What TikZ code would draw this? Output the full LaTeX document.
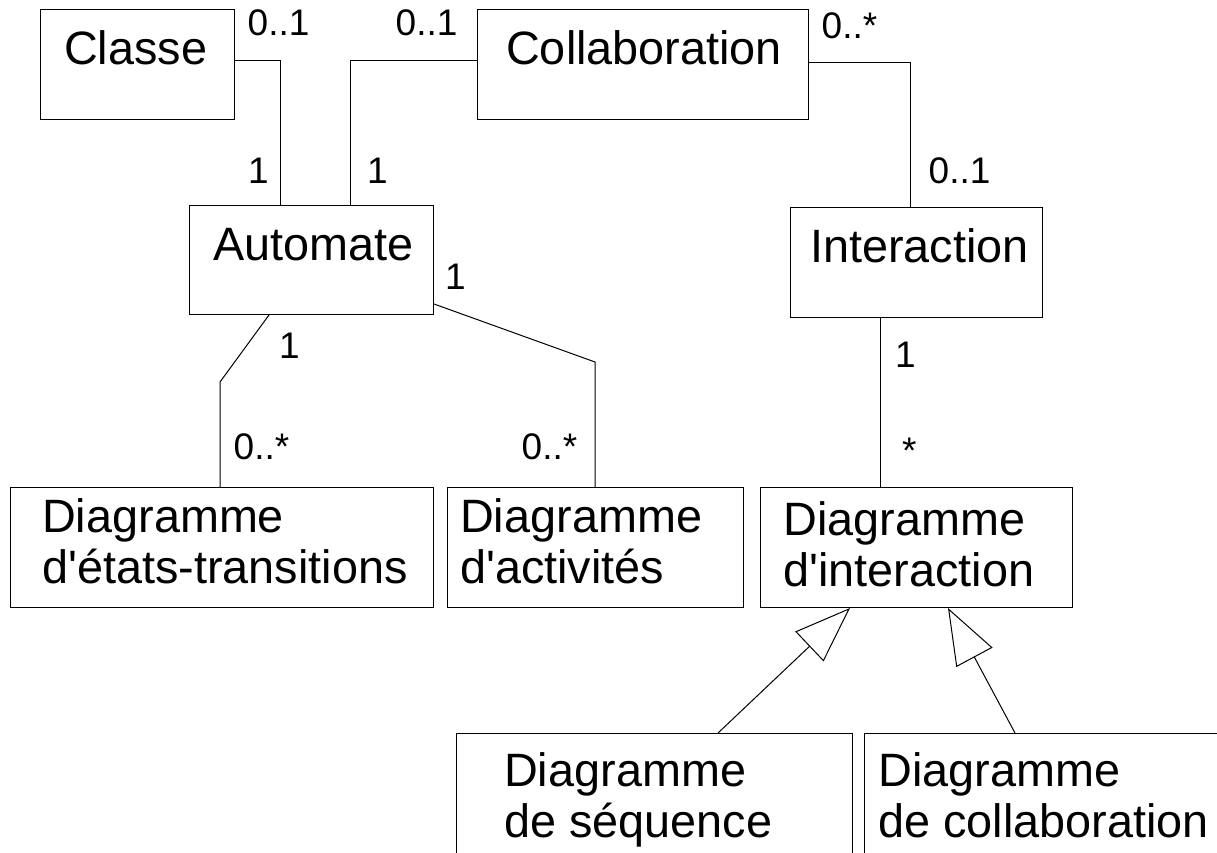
\documentclass[tikz,border=0pt]{standalone}
\usepackage{fontspec}
\newfontfamily\umlfont{Liberation Sans}
\usetikzlibrary{arrows.meta}

\tikzstyle{classbox}=[draw,line width=1pt,rectangle,anchor=north west,inner sep=0pt]
\tikzstyle{boxtext}=[font=\umlfont\fontsize{46.8}{51}\selectfont,inner sep=0pt,anchor=base west,align=left]
\tikzstyle{mult}=[font=\umlfont\fontsize{37}{40}\selectfont,inner sep=0pt,anchor=base west]
\tikzstyle{assoc}=[draw,line width=1pt]
\tikzstyle{generalization}=[draw,line width=1pt,-{Triangle[open,length=56pt,width=41pt]}]

\begin{document}
\begin{tikzpicture}[x=1pt,y=-1pt]
\useasboundingbox (0,0) rectangle (1217,853);
\clip (0,0) rectangle (1217,853);
% classes
\foreach \name/\x/\y/\w/\h in {classe/40/9/194/110, collab/477/9/331/110,
                               automate/189/205/244/109, interaction/790/207/252/110,
                               etats/10/487/423/120, activites/447/487/296/120,
                               dinter/760/487/312/120, sequence/456/733/396/150,
                               dcollab/864/733/400/150}{
  \node[classbox,minimum width=\w pt,minimum height=\h pt] (\name) at (\x,\y) {};
}
% names (base = last line)
\foreach \name/\dx/\dy/\txt in {{classe/24/56/Classe}, {collab/29/56/Collaboration},
                                {automate/24/55/Automate}, {interaction/20/55/Interaction},
                                {etats/32/96/Diagramme\\d'états-transitions},
                                {activites/13/96/Diagramme\\d'activités},
                                {dinter/23/99/Diagramme\\d'interaction},
                                {sequence/48/104/Diagramme\\de séquence},
                                {dcollab/14/104/Diagramme\\de collaboration}}{
  \node[boxtext] (\name-t) at ([xshift=\dx pt,yshift=-\dy pt]\name.north west) {\txt};
}
% associations
\path[assoc] ([yshift=4pt]classe.east) -| ([xshift=91pt]automate.north west);
\path[assoc] ([yshift=4pt]collab.west) -| ([xshift=161pt]automate.north west);
\path[assoc] ([yshift=2pt]collab.east) -| ([xshift=120pt]interaction.north west);
\path[assoc] ([xshift=80pt]automate.south west) -- ([xshift=210pt,yshift=105pt]etats.north west)
  -- ([xshift=210pt]etats.north west);
\path[assoc] ([yshift=11pt]automate.south east) -- ([xshift=148pt,yshift=125pt]activites.north west)
  -- ([xshift=148pt]activites.north west);
\path[assoc] ([xshift=90pt]interaction.south west) -- ([xshift=120pt]dinter.north west);
% generalizations
\path[generalization] ([xshift=262pt]sequence.north west) -- ([xshift=90pt]dinter.south west);
\path[generalization] ([xshift=151pt]dcollab.north west) -- ([xshift=188pt]dinter.south west);
% multiplicities
\foreach \pos/\name/\txt in {{(247.5,36)/m1/0..1}, {(248,184)/m2/1}, {(395.5,36)/m3/0..1},
                             {(367,184)/m4/1}, {(821.5,39)/m5/0..*}, {(928.5,183)/m6/0..1},
                             {(445,289)/m7/1}, {(279,358)/m8/1}, {(233.5,459)/m9/0..*},
                             {(521.5,459)/m10/0..*}, {(895,367)/m11/1}, {(902,463)/m12/*}}{
  \node[mult] (\name) at \pos {\txt};
}
\end{tikzpicture}
\end{document}
